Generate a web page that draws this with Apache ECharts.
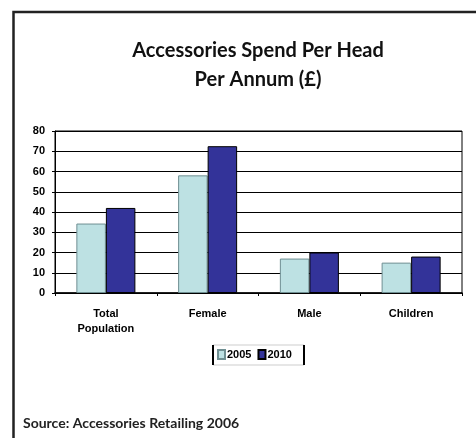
<!DOCTYPE html>
<html>
<head>
<meta charset="utf-8">
<script src="https://cdn.jsdelivr.net/npm/echarts@6/dist/echarts.min.js"></script>
<style>
  html, body { margin: 0; padding: 0; background: #fff; }
  #main { width: 476px; height: 438px; }
</style>
</head>
<body>
<div id="main"></div>
<script>
  // categories and values
  var categories = ['Total\nPopulation', 'Female', 'Male', 'Children'];
  var spend2005 = [34.3, 58.1, 17, 15];
  var spend2010 = [42, 72.5, 20, 18];
  var yTicks = [0, 10, 20, 30, 40, 50, 60, 70, 80];

  var myChart = echarts.init(document.getElementById('main'));
  myChart.setOption({
    animation: false,
    title: {
      text: 'Accessories Spend Per Head\nPer Annum (£)',
      left: 253,
      top: 31,
      textAlign: 'center',
      textStyle: {
        fontFamily: 'Lato',
        fontWeight: 'bold',
        fontSize: 20,
        lineHeight: 29,
        color: '#111'
      }
    },
    graphic: [
      {
        type: 'rect',
        shape: { x: 13.5, y: 12, width: 500, height: 500 },
        style: { fill: 'none', stroke: '#222', lineWidth: 2.5 }
      },
      {
        type: 'rect',
        shape: { x: 213, y: 345, width: 91, height: 20 },
        style: { fill: '#fff', stroke: '#999', lineWidth: 0.5 }
      },
      {
        type: 'line',
        shape: { x1: 213, y1: 345, x2: 213, y2: 365 },
        style: { stroke: '#000', lineWidth: 2 }
      },
      {
        type: 'line',
        shape: { x1: 304, y1: 345, x2: 304, y2: 365 },
        style: { stroke: '#000', lineWidth: 2 }
      },
      {
        type: 'text',
        left: 23,
        top: 416,
        style: {
          text: 'Source: Accessories Retailing 2006',
          font: 'bold 14px Lato',
          fill: '#222'
        }
      }
    ],
    legend: {
      data: ['2005', '2010'],
      left: 217,
      top: 349,
      itemWidth: 7,
      itemHeight: 9,
      itemGap: 6,
      icon: 'rect',
      textStyle: {
        fontFamily: 'Liberation Sans',
        fontWeight: 'bold',
        fontSize: 11,
        color: '#000',
        padding: [0, 0, 0, -3]
      },
      padding: 0
    },
    grid: {
      left: 55,
      top: 131,
      width: 407,
      height: 162,
      show: true,
      borderColor: '#000',
      borderWidth: 1,
      containLabel: false
    },
    xAxis: {
      type: 'category',
      data: categories,
      axisLine: { lineStyle: { color: '#000', width: 1.5 } },
      axisTick: { show: true, length: 3, lineStyle: { color: '#000' } },
      axisLabel: {
        margin: 13,
        fontFamily: 'Liberation Sans',
        fontWeight: 'bold',
        fontSize: 11,
        lineHeight: 15,
        color: '#000'
      }
    },
    yAxis: {
      type: 'value',
      min: yTicks[0],
      max: yTicks[yTicks.length - 1],
      interval: 10,
      axisLine: { show: true, lineStyle: { color: '#000', width: 1 } },
      axisTick: { show: true, length: 3, lineStyle: { color: '#000' } },
      splitLine: { lineStyle: { color: '#000', width: 1 } },
      axisLabel: {
        margin: 10,
        fontFamily: 'Liberation Sans',
        fontWeight: 'bold',
        fontSize: 11,
        color: '#000'
      }
    },
    series: [
      {
        name: '2005',
        type: 'bar',
        data: spend2005,
        barGap: '0%',
        barCategoryGap: '42%',
        itemStyle: { color: '#BDE1E3', borderColor: '#6f8f92', borderWidth: 1 }
      },
      {
        name: '2010',
        type: 'bar',
        data: spend2010,
        itemStyle: { color: '#333399', borderColor: '#000', borderWidth: 1 }
      }
    ]
  });
</script>
</body>
</html>
